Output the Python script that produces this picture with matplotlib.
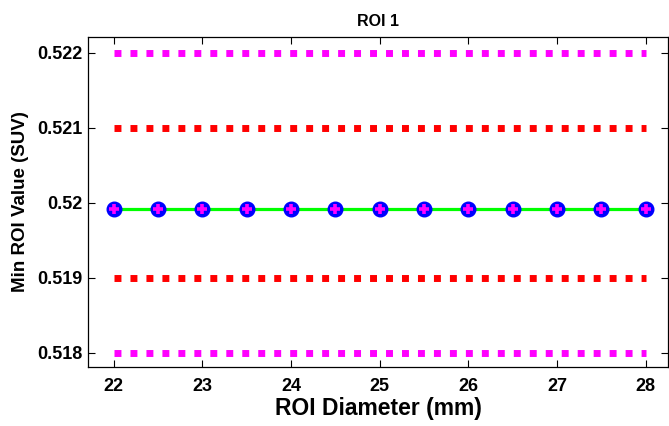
import matplotlib
matplotlib.use('Agg')
import matplotlib.pyplot as plt

plt.rcParams['font.family'] = ['Liberation Sans', 'DejaVu Sans']
plt.rcParams['font.weight'] = 'bold'

diameters = [22, 22.5, 23, 23.5, 24, 24.5, 25, 25.5, 26, 26.5, 27, 27.5, 28]
min_values = [0.51992] * len(diameters)
x_span = [22, 28]
outer_limits = [0.518, 0.522]
inner_limits = [0.519, 0.521]
xticks = [22, 23, 24, 25, 26, 27, 28]
yticks = [0.518, 0.519, 0.52, 0.521, 0.522]
ytick_labels = ['0.518', '0.519', '0.52', '0.521', '0.522']

fig = plt.figure(figsize=(6.69, 4.26), dpi=100)
ax = fig.add_axes([88 / 669, 59 / 426, 580 / 669, 330 / 426])

# limit lines drawn as heavy square dots
dots = (0, (1.0, 1.3))
for y in outer_limits:
    ax.plot(x_span, [y, y], color='#ff00ff', lw=5.0, linestyle=dots,
            dash_capstyle='butt')
for y in inner_limits:
    ax.plot(x_span, [y, y], color='#ff0000', lw=5.0, linestyle=dots,
            dash_capstyle='butt')

ax.plot(diameters, min_values, color='#00ff00', lw=2.3, zorder=3)
ax.plot(diameters, min_values, linestyle='none', marker='o', ms=10.5,
        mfc='#0000ff', mec='#0000ff', zorder=4)
ax.plot(diameters, min_values, linestyle='none', marker='+', ms=7.5,
        mew=2.6, color='#ff00ff', zorder=5)

ax.set_xlim(21.71, 28.25)
ax.set_ylim(0.517813, 0.522213)
ax.set_xticks(xticks)
ax.set_yticks(yticks)
ax.set_yticklabels(ytick_labels)
ax.tick_params(direction='in', length=5, width=0.8, top=True, right=True,
               labelsize=13)
ax.tick_params(axis='x', pad=8)
ax.tick_params(axis='y', pad=4)
for label in ax.get_xticklabels() + ax.get_yticklabels():
    label.set_fontweight('bold')
for s in ax.spines.values():
    s.set_linewidth(0.9)

ax.set_xlabel('ROI Diameter (mm)', fontsize=16.5, fontweight='bold', labelpad=1)
ax.set_ylabel('Min ROI Value (SUV)', fontsize=13.5, fontweight='bold', labelpad=6)
ax.set_title('ROI 1', fontsize=11.5, fontweight='bold', pad=8)

fig.savefig('out.png', dpi=100)
